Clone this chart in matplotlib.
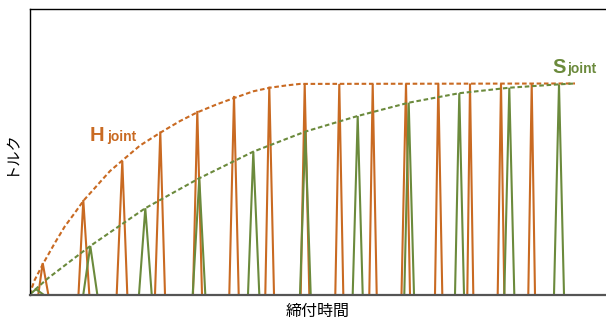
import numpy as np
import matplotlib.pyplot as plt

plt.rcParams['font.family'] = ['Noto Sans CJK JP', 'DejaVu Sans']

# H joint spikes: start, peak time, end, peak torque
h_start = [0.88, 4.90, 8.72, 12.55, 16.35, 19.98, 23.58, 27.12, 30.58, 33.98, 37.20, 40.55, 43.78, 46.82, 49.88]
h_peak_t = [1.32, 5.38, 9.28, 13.08, 16.78, 20.45, 23.98, 27.52, 30.98, 34.32, 37.65, 40.88, 44.05, 47.15, 50.22]
h_end = [1.88, 5.98, 9.78, 13.55, 17.25, 20.92, 24.45, 27.98, 31.38, 34.72, 38.05, 41.28, 44.38, 47.48, 50.55]
h_torque = [14.9, 44.8, 63.3, 77.2, 87.0, 94.1, 98.5, 99.8, 99.8, 99.8, 100, 100, 100, 100, 100]

# S joint spikes
s_start = [0.00, 5.38, 10.95, 16.32, 21.85, 27.05, 32.32, 37.48, 42.55, 47.48, 52.45]
s_peak_t = [0.65, 6.08, 11.58, 16.98, 22.38, 27.58, 32.82, 37.92, 42.98, 47.98, 52.95]
s_end = [1.38, 6.78, 12.22, 17.58, 22.98, 28.12, 33.32, 38.45, 43.45, 48.48, 53.45]
s_torque = [2.5, 23.0, 40.9, 55.1, 67.7, 77.2, 84.6, 90.9, 95.4, 98.0, 99.6]

# envelope curves
h_env_t = [0.0, 0.52, 1.35, 2.52, 3.52, 4.52, 5.42, 6.52, 7.25, 8.05, 9.28, 11.05, 13.05,
           15.05, 16.72, 18.72, 20.45, 22.38, 24.05, 25.72, 27.05, 54.55]
h_env_torque = [0.0, 6.9, 14.5, 24.3, 32.2, 38.6, 44.6, 50.4, 54.3, 58.5, 63.5, 70.6, 76.6,
                82.2, 86.2, 90.1, 93.1, 96.3, 98.0, 99.1, 99.8, 100.0]
s_env_t = [0.0, 1.85, 6.08, 9.85, 11.58, 16.98, 22.38, 27.58, 32.82, 37.92, 42.98, 47.98, 52.95, 54.55]
s_env_torque = [0.0, 7.7, 23.0, 35.3, 40.9, 55.1, 67.7, 77.2, 84.6, 90.9, 95.4, 98.0, 99.6, 100.0]

orange = '#c96a22'
green = '#6b8a3c'

fig = plt.figure(figsize=(6.06, 3.2), dpi=100)
ax = fig.add_axes([29.5 / 606, 25.5 / 320, 576.5 / 606, 285.5 / 320])

# spikes
for a, p, b, h in zip(h_start, h_peak_t, h_end, h_torque):
    ax.plot([a, p, b], [0, h, 0], color=orange, lw=1.5, solid_joinstyle='miter')
for a, p, b, h in zip(s_start, s_peak_t, s_end, s_torque):
    ax.plot([a, p, b], [0, h, 0], color=green, lw=1.5, solid_joinstyle='miter')

# envelopes
ax.plot(h_env_t, h_env_torque, color=orange, lw=1.5, ls=(0, (2.2, 1.3)))
ax.plot(s_env_t, s_env_torque, color=green, lw=1.5, ls=(0, (2.2, 1.3)))

# labels
lab = dict(family='Liberation Sans', fontweight='bold')
ax.text(6.05, 72.9, 'H', color=orange, fontsize=14.5, **lab)
ax.text(7.75, 72.9, 'joint', color=orange, fontsize=10, **lab)
ax.text(52.32, 105.1, 'S', color=green, fontsize=14.5, **lab)
ax.text(53.75, 105.1, 'joint', color=green, fontsize=10, **lab)

ax.set_xlim(0, 57.65)
ax.set_ylim(0, 135.3)
ax.set_xticks([])
ax.set_yticks([])
ax.spines['right'].set_visible(False)
ax.spines['bottom'].set_color('#555555')
ax.spines['bottom'].set_linewidth(1.6)
ax.spines['top'].set_linewidth(1.0)
ax.spines['left'].set_linewidth(1.0)
ax.set_xlabel('締付時間', fontsize=11.5, labelpad=6)
ax.set_ylabel('トルク', fontsize=11, labelpad=7)

fig.savefig('out.png', dpi=100)
